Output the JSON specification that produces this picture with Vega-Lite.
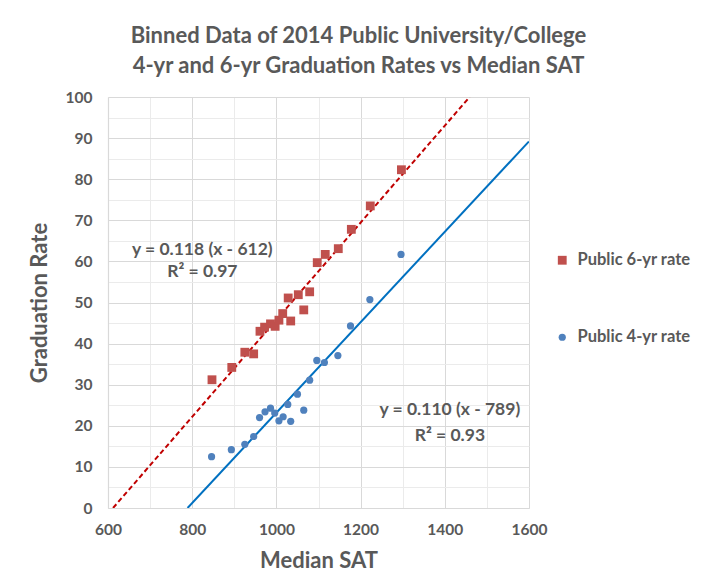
{
  "$schema": "https://vega.github.io/schema/vega-lite/v6.json",
  "autosize": {"type": "none"},
  "width": 421,
  "height": 411,
  "padding": {"left": 108, "top": 97, "right": 175, "bottom": 79},
  "background": "white",
  "config": {
    "font": "Lato",
    "view": {"stroke": null},
    "axis": {
      "labelFont": "Lato", "labelFontWeight": "bold", "labelFontSize": 15.5, "labelColor": "#595959",
      "titleFont": "Lato", "titleFontWeight": "bold", "titleFontSize": 22, "titleColor": "#595959",
      "ticks": false, "domainColor": "#D9D9D9", "domainWidth": 1.2
    }
  },
  "title": {
    "text": ["Binned Data of 2014 Public University/College", "4-yr and 6-yr Graduation Rates vs Median SAT"],
    "font": "Lato", "fontSize": 22, "fontWeight": "bold", "color": "#595959",
    "anchor": "middle", "offset": 12, "lineHeight": 30, "dx": 40
  },
  "datasets": {
    "points": [
      {"sat": 847, "rate": 31.2, "series": "Public 6-yr rate"},
      {"sat": 894, "rate": 34.2, "series": "Public 6-yr rate"},
      {"sat": 925, "rate": 37.9, "series": "Public 6-yr rate"},
      {"sat": 946, "rate": 37.5, "series": "Public 6-yr rate"},
      {"sat": 961, "rate": 43.0, "series": "Public 6-yr rate"},
      {"sat": 972, "rate": 44.0, "series": "Public 6-yr rate"},
      {"sat": 986, "rate": 44.8, "series": "Public 6-yr rate"},
      {"sat": 997, "rate": 44.2, "series": "Public 6-yr rate"},
      {"sat": 1006, "rate": 45.7, "series": "Public 6-yr rate"},
      {"sat": 1015, "rate": 47.3, "series": "Public 6-yr rate"},
      {"sat": 1028, "rate": 51.1, "series": "Public 6-yr rate"},
      {"sat": 1034, "rate": 45.5, "series": "Public 6-yr rate"},
      {"sat": 1052, "rate": 51.9, "series": "Public 6-yr rate"},
      {"sat": 1065, "rate": 48.2, "series": "Public 6-yr rate"},
      {"sat": 1079, "rate": 52.6, "series": "Public 6-yr rate"},
      {"sat": 1097, "rate": 59.7, "series": "Public 6-yr rate"},
      {"sat": 1116, "rate": 61.7, "series": "Public 6-yr rate"},
      {"sat": 1147, "rate": 63.1, "series": "Public 6-yr rate"},
      {"sat": 1178, "rate": 67.8, "series": "Public 6-yr rate"},
      {"sat": 1223, "rate": 73.5, "series": "Public 6-yr rate"},
      {"sat": 1297, "rate": 82.3, "series": "Public 6-yr rate"},
      {"sat": 846, "rate": 12.5, "series": "Public 4-yr rate"},
      {"sat": 893, "rate": 14.2, "series": "Public 4-yr rate"},
      {"sat": 925, "rate": 15.5, "series": "Public 4-yr rate"},
      {"sat": 946, "rate": 17.4, "series": "Public 4-yr rate"},
      {"sat": 960, "rate": 22.0, "series": "Public 4-yr rate"},
      {"sat": 973, "rate": 23.4, "series": "Public 4-yr rate"},
      {"sat": 986, "rate": 24.3, "series": "Public 4-yr rate"},
      {"sat": 996, "rate": 23.1, "series": "Public 4-yr rate"},
      {"sat": 1006, "rate": 21.2, "series": "Public 4-yr rate"},
      {"sat": 1016, "rate": 22.2, "series": "Public 4-yr rate"},
      {"sat": 1027, "rate": 25.2, "series": "Public 4-yr rate"},
      {"sat": 1034, "rate": 21.1, "series": "Public 4-yr rate"},
      {"sat": 1050, "rate": 27.7, "series": "Public 4-yr rate"},
      {"sat": 1065, "rate": 23.8, "series": "Public 4-yr rate"},
      {"sat": 1079, "rate": 31.1, "series": "Public 4-yr rate"},
      {"sat": 1096, "rate": 35.9, "series": "Public 4-yr rate"},
      {"sat": 1114, "rate": 35.4, "series": "Public 4-yr rate"},
      {"sat": 1146, "rate": 37.1, "series": "Public 4-yr rate"},
      {"sat": 1176, "rate": 44.3, "series": "Public 4-yr rate"},
      {"sat": 1222, "rate": 50.7, "series": "Public 4-yr rate"},
      {"sat": 1296, "rate": 61.7, "series": "Public 4-yr rate"}
    ],
    "fit6": [
      {"sat": 612, "rate": 0},
      {"sat": 1459, "rate": 100}
    ],
    "fit4": [
      {"sat": 789, "rate": 0},
      {"sat": 1600, "rate": 89.2}
    ],
    "notes": [
      {"sat": 824, "rate": 62.8, "label": "y = 0.118 (x - 612)"},
      {"sat": 824, "rate": 57.4, "label": "R² = 0.97"},
      {"sat": 1412, "rate": 23.8, "label": "y = 0.110 (x - 789)"},
      {"sat": 1412, "rate": 17.5, "label": "R² = 0.93"}
    ]
  },
  "encoding": {
    "x": {
      "field": "sat", "type": "quantitative",
      "scale": {"domain": [600, 1600], "nice": false, "zero": false},
      "axis": {
        "title": "Median SAT",
        "values": [600, 700, 800, 900, 1000, 1100, 1200, 1300, 1400, 1500, 1600],
        "labelExpr": "datum.value % 200 === 0 ? datum.label : ''",
        "format": "d",
        "labelPadding": 14, "titlePadding": 13,
        "gridColor": {"condition": {"test": "datum.value % 200 === 0", "value": "#D9D9D9"}, "value": "#EBEBEB"},
        "labelFlush": false
      }
    },
    "y": {
      "field": "rate", "type": "quantitative",
      "scale": {"domain": [0, 100], "nice": false},
      "axis": {
        "title": "Graduation Rate",
        "values": [0, 5, 10, 15, 20, 25, 30, 35, 40, 45, 50, 55, 60, 65, 70, 75, 80, 85, 90, 95, 100],
        "labelExpr": "datum.value % 10 === 0 ? datum.label : ''",
        "labelPadding": 16, "titlePadding": 14,
        "gridColor": {"condition": {"test": "datum.value % 10 === 0", "value": "#D9D9D9"}, "value": "#EBEBEB"},
        "labelFlush": false
      }
    }
  },
  "layer": [
    {
      "data": {"name": "fit6"},
      "mark": {"type": "line", "color": "#C00000", "strokeWidth": 2, "strokeDash": [5, 3], "clip": true}
    },
    {
      "data": {"name": "fit4"},
      "mark": {"type": "line", "color": "#0070C0", "strokeWidth": 2, "clip": true}
    },
    {
      "data": {"name": "points"},
      "mark": {"type": "point", "filled": true, "opacity": 1},
      "encoding": {
        "shape": {
          "field": "series", "type": "nominal",
          "scale": {"domain": ["Public 6-yr rate", "Public 4-yr rate"], "range": ["square", "circle"]},
          "legend": null
        },
        "size": {
          "field": "series", "type": "nominal",
          "scale": {"domain": ["Public 6-yr rate", "Public 4-yr rate"], "range": [78, 52]},
          "legend": null
        },
        "color": {
          "field": "series", "type": "nominal",
          "scale": {"domain": ["Public 6-yr rate", "Public 4-yr rate"], "range": ["#C0504D", "#4F81BD"]},
          "legend": {
            "title": null, "orient": "none", "legendX": 446, "legendY": 155,
            "symbolType": "square", "rowPadding": 60, "labelFont": "Lato", "labelFontWeight": "bold",
            "labelFontSize": 16.5, "labelColor": "#595959", "symbolSize": 64, "labelOffset": 7
          }
        }
      }
    },
    {
      "data": {"name": "notes"},
      "mark": {"type": "text", "font": "Lato", "fontWeight": "bold", "fontSize": 17.5, "color": "#595959", "align": "center", "baseline": "middle"},
      "encoding": {"text": {"field": "label"}}
    }
  ]
}
